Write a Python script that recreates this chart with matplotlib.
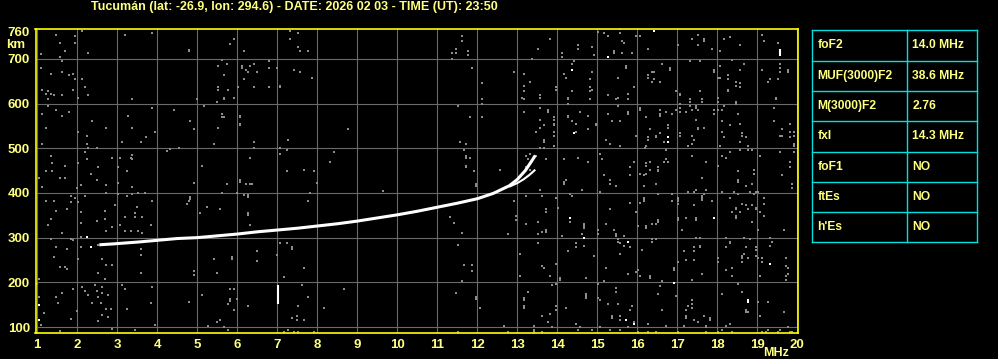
import matplotlib
matplotlib.use("Agg")
import matplotlib.pyplot as plt
from matplotlib.lines import Line2D

# ---- data ----
title = "Tucumán (lat: -26.9, lon: 294.6) - DATE: 2026 02 03 - TIME (UT): 23:50"

x_ticks = list(range(1, 21))
y_ticks = [100, 200, 300, 400, 500, 600, 700]
y_labels = ["100", "200", "300", "400", "500", "600", "700"]

# main F2 echo trace (MHz, virtual height km)
trace_freq = [2.55, 2.9, 3.2, 3.5, 4.0, 4.5, 5.0, 5.5, 6.0, 6.5, 7.0, 7.5, 8.0,
              8.5, 9.0, 9.5, 10.0, 10.5, 11.0, 11.5, 12.0, 12.4, 12.8, 13.0,
              13.2, 13.35, 13.45]
trace_km = [284, 286, 288, 290, 294, 298, 300, 304, 308, 313, 317, 321, 326,
            331, 337, 344, 351, 359, 368, 377, 387, 399, 416, 430, 450, 470, 484]

# second branch near the critical frequency
branch_freq = [12.8, 13.0, 13.15, 13.3, 13.45]
branch_km = [414, 422, 430, 440, 452]

# table of scaled parameters
param_names = ["foF2", "MUF(3000)F2", "M(3000)F2", "fxI", "foF1", "ftEs", "h'Es"]
param_values = ["14.0 MHz", "38.6 MHz", "2.76", "14.3 MHz", "NO", "NO", "NO"]

# isolated white echoes
white_pts = [
    (1.03, 149), (1.03, 116), (2.23, 301), (2.33, 279),
    (15.28, 704), (14.38, 676), (14.43, 533), (14.33, 345), (14.68, 300),
    (15.78, 291), (15.73, 116), (15.93, 107),
    (16.78, 524), (16.78, 515), (17.93, 345),
    (16.93, 198), (19.33, 240), (18.78, 161), (18.78, 157), (16.43, 763),
]
# vertical white streaks (MHz, km bottom, km top)
white_bars = [(7.03, 152, 194), (19.58, 706, 722)]

# gray background noise (1-4 MHz strip)
noise_a = [
    (1.48, 754), (1.93, 751), (2.13, 763), (3.18, 754), (3.88, 758), (1.58, 736), (1.93, 736),
    (1.68, 718), (1.08, 710), (2.28, 713), (1.58, 704), (4.78, 718),
    (1.63, 694), (1.08, 680), (1.33, 667), (1.63, 671), (1.88, 667), (1.93, 654), (1.78, 663),
    (2.13, 654), (2.18, 636), (1.88, 631), (1.13, 631), (1.28, 627), (1.33, 622), (1.23, 622),
    (1.43, 618), (1.63, 618), (2.03, 613), (2.28, 618), (1.28, 609), (3.38, 609),
    (1.28, 595), (1.48, 586), (1.78, 582), (1.63, 573), (1.13, 577), (3.88, 591), (4.43, 586),
    (3.28, 573), (2.38, 560), (2.73, 546), (3.38, 546), (1.23, 546), (2.03, 537), (2.23, 528),
    (3.93, 537), (3.73, 524), (3.13, 515), (3.58, 515), (1.13, 510), (2.23, 510), (2.28, 501),
    (2.48, 501), (4.23, 494), (4.33, 498), (4.53, 501), (1.33, 483), (2.18, 492), (2.88, 479),
    (3.08, 479), (3.38, 485), (3.33, 479), (3.38, 475), (2.23, 475), (2.03, 466), (1.38, 466),
    (1.68, 461), (2.53, 457), (3.03, 457), (1.38, 448), (1.23, 448), (2.33, 443), (3.23, 448),
    (1.68, 434), (1.58, 434), (2.48, 430), (1.03, 434), (1.13, 413), (2.73, 418), (2.08, 418),
    (3.38, 413), (1.98, 412), (3.03, 422),
    (1.83, 394), (1.93, 389), (2.03, 379), (2.18, 394), (2.73, 400), (3.03, 398), (3.38, 398),
    (3.53, 400), (3.68, 400), (3.23, 394), (1.83, 379), (1.23, 382), (1.43, 382), (2.08, 358),
    (1.73, 364), (1.48, 360), (2.93, 372), (3.48, 369), (3.88, 381), (4.73, 375), (2.68, 360),
    (3.43, 355), (3.43, 346), (3.18, 346), (3.63, 346), (2.68, 342), (2.48, 337), (1.33, 342),
    (2.08, 333), (1.28, 328), (2.88, 324), (3.08, 328), (3.83, 328), (2.73, 315), (3.18, 315),
    (3.33, 315), (3.53, 315), (3.63, 310), (1.63, 310),
    (1.33, 297), (1.83, 297), (2.08, 301), (1.88, 294), (2.53, 284), (1.73, 275), (1.48, 279),
    (2.08, 279), (2.03, 252), (1.43, 257), (2.63, 252), (1.58, 234), (1.68, 234), (1.73, 230),
    (2.73, 239), (2.88, 239), (2.53, 221), (2.68, 207), (3.58, 275), (3.58, 261), (3.58, 221),
    (1.03, 207), (0.98, 197), (2.13, 190), (2.43, 194), (2.63, 190), (1.88, 185), (1.63, 176),
    (1.48, 167), (2.18, 181), (2.28, 172), (2.48, 181), (2.53, 167), (2.63, 176), (2.78, 172),
    (3.13, 194), (3.18, 185), (3.88, 190), (1.03, 167), (1.53, 154), (2.38, 154), (2.58, 154),
    (2.73, 140), (2.83, 140), (2.63, 127), (1.18, 131), (1.98, 136), (3.23, 140), (3.83, 154),
    (1.83, 118), (2.53, 113), (2.78, 122), (3.93, 105), (2.88, 96), (3.43, 93), (1.58, 91),
    (1.08, 105),
]

# 4.8-8.5 MHz strip
noise_b = [
    (7.33, 763), (7.53, 758), (4.78, 719), (5.83, 733), (5.93, 745), (6.18, 718), (7.33, 745),
    (7.53, 727), (7.78, 718), (7.58, 718),
    (5.63, 698), (5.73, 689), (5.53, 685), (5.68, 663), (6.13, 685), (6.13, 680), (6.23, 676),
    (6.28, 671), (6.33, 685), (6.43, 689), (6.48, 671), (6.78, 694), (6.78, 680), (6.98, 680),
    (7.43, 676), (7.58, 671), (7.88, 658), (6.18, 654), (6.03, 636), (6.43, 636), (6.78, 636),
    (7.08, 640), (7.08, 636), (5.53, 636), (5.53, 631), (5.78, 631), (5.93, 613), (5.68, 613),
    (5.68, 609), (5.48, 604), (4.98, 609), (5.18, 595),
    (5.63, 577), (5.63, 569), (5.68, 569), (6.08, 573), (6.08, 569), (6.08, 555), (6.08, 551),
    (4.83, 560), (4.93, 542), (5.53, 546), (5.43, 510), (6.43, 515), (6.43, 501), (7.28, 519),
    (7.08, 501), (7.23, 497), (7.08, 488), (6.33, 479), (8.43, 492), (8.33, 470), (5.13, 461),
    (7.23, 448), (7.68, 452), (7.93, 448), (6.08, 430), (6.08, 425), (6.23, 419), (6.33, 419),
    (6.38, 419), (5.73, 419), (4.93, 423), (7.98, 423),
    (5.63, 400), (5.98, 400), (6.18, 396), (6.28, 396), (6.28, 392), (7.83, 400), (4.83, 392),
    (4.83, 387), (4.78, 383), (7.78, 383), (5.23, 369), (5.58, 364), (5.08, 356), (6.28, 356),
    (6.28, 351), (6.33, 329),
    (7.08, 289), (7.23, 289), (7.38, 280), (7.38, 275), (6.48, 271), (5.88, 257), (5.88, 253),
    (5.43, 253), (6.48, 248), (6.98, 262), (4.93, 226), (4.93, 217), (5.48, 222), (7.68, 231),
    (7.18, 213),
    (7.63, 195), (5.83, 186), (5.93, 186), (5.13, 172), (7.78, 168), (4.78, 157), (5.83, 163),
    (5.98, 163), (5.83, 159), (5.78, 152), (6.28, 148), (5.93, 139), (7.53, 148), (8.18, 143),
    (7.48, 125), (7.48, 116), (7.38, 121), (7.68, 116), (5.58, 116), (5.48, 112), (5.28, 103),
    (5.68, 99), (5.78, 94), (7.28, 94), (7.18, 90), (7.43, 90), (7.53, 90), (7.93, 90),
]

# 8.5-12.3 MHz strip
noise_c = [
    (11.63, 751), (11.63, 740), (11.48, 722), (11.38, 713), (11.48, 713), (11.78, 718),
    (11.78, 709), (11.38, 700), (11.88, 680), (12.13, 645), (12.13, 609), (12.13, 598),
    (11.53, 595), (11.83, 569), (12.13, 569), (8.78, 542), (11.58, 515), (11.73, 510),
    (11.68, 497), (11.73, 483), (11.73, 479), (11.83, 479), (11.73, 461), (11.73, 457),
    (11.93, 448), (11.98, 419), (11.98, 415), (9.63, 404), (11.33, 346), (11.43, 333),
    (11.63, 310), (11.53, 284), (11.68, 239), (11.88, 239), (11.88, 225), (11.63, 203),
    (8.68, 186), (11.48, 177), (11.98, 168), (11.98, 163), (12.08, 143), (11.53, 90),
]

# 12.3-16.2 MHz strip
noise_d = [
    (15.03, 761), (15.18, 757), (15.28, 751), (15.58, 757), (15.58, 766), (15.63, 740),
    (15.68, 736), (15.98, 751), (16.08, 751), (13.83, 745), (13.53, 722), (14.13, 713),
    (14.13, 704), (14.53, 731), (14.53, 722), (14.88, 727), (14.93, 709), (15.43, 718),
    (15.43, 713), (15.63, 713), (15.88, 713), (13.38, 700), (12.93, 671), (13.18, 667),
    (14.18, 667), (14.38, 689), (14.43, 694), (14.23, 658), (14.88, 671), (14.83, 654),
    (15.73, 685), (15.73, 680), (15.53, 658), (13.33, 649), (13.18, 640), (13.18, 627),
    (13.13, 613), (13.18, 609), (13.58, 618), (13.58, 613), (13.98, 636), (13.98, 631),
    (14.38, 627), (14.28, 613), (14.28, 609), (14.83, 636), (14.83, 627), (14.88, 631),
    (14.83, 609), (15.28, 618), (15.48, 609), (15.53, 613), (15.78, 622), (15.78, 609),
    (15.93, 636), (14.28, 600), (15.53, 595), (16.08, 591), (16.08, 586), (13.18, 582),
    (13.58, 591), (13.78, 586), (13.78, 582), (13.93, 569), (13.93, 564), (13.93, 555),
    (13.93, 551), (13.58, 564), (13.58, 546), (13.68, 551), (13.48, 537), (13.93, 537),
    (13.93, 528), (14.28, 573), (14.28, 569), (14.58, 582), (14.38, 560), (14.48, 555),
    (14.48, 537), (14.78, 573), (14.78, 542), (14.98, 555), (14.98, 551), (15.28, 577),
    (15.38, 560), (15.58, 560), (15.78, 582), (15.78, 577), (15.98, 528), (13.68, 519),
    (13.68, 515), (13.93, 506), (15.23, 519), (15.33, 510), (15.58, 506), (13.58, 501),
    (13.68, 501),
    (12.58, 452), (13.23, 483), (13.33, 488), (13.48, 483), (13.28, 475), (13.23, 457),
    (13.33, 452), (13.73, 475), (14.18, 475), (14.53, 479), (14.78, 470), (15.08, 488),
    (15.13, 475), (15.83, 457), (15.93, 470), (15.18, 439), (15.33, 430), (15.33, 421),
    (15.48, 416), (15.83, 439), (16.08, 443), (16.18, 439), (14.18, 425), (14.18, 421),
    (14.23, 430), (12.93, 381), (13.23, 394), (13.58, 407), (13.63, 394), (13.98, 389),
    (14.33, 398), (14.38, 394), (14.63, 407), (15.08, 403), (14.03, 367), (13.73, 363),
    (13.73, 358), (15.33, 363), (15.83, 378), (16.08, 378), (15.98, 358), (12.98, 349),
    (12.98, 340), (13.23, 331), (13.53, 336), (14.33, 336), (14.68, 331), (14.68, 327),
    (14.68, 322), (14.63, 309), (13.73, 318), (13.73, 313), (13.53, 309), (14.13, 304),
    (12.78, 309), (13.63, 313), (15.03, 318), (15.03, 309), (15.23, 331), (15.43, 318),
    (15.48, 309), (15.53, 296), (15.68, 304), (15.68, 282), (15.83, 278), (16.03, 327),
    (16.13, 273), (13.08, 264), (13.53, 287), (14.48, 287), (14.48, 278), (14.68, 282),
    (14.93, 260), (15.58, 287), (15.58, 264), (15.23, 233), (15.48, 304), (15.53, 291),
    (14.28, 269), (13.63, 237), (13.68, 233), (13.98, 242), (14.08, 210), (14.08, 206),
    (13.83, 215), (13.08, 215), (15.98, 224), (16.03, 228), (16.08, 215), (15.78, 219),
    (15.03, 197), (15.18, 202), (15.48, 188), (15.48, 179), (14.73, 210), (13.88, 193),
    (13.98, 197), (13.28, 179), (13.18, 148), (13.18, 143), (13.18, 166), (13.18, 161),
    (13.98, 148), (13.98, 139), (14.23, 143), (14.48, 107), (14.58, 99), (14.73, 175),
    (14.73, 170), (14.73, 166), (15.03, 166), (15.08, 161), (15.28, 152), (15.53, 152),
    (15.83, 139), (15.88, 148), (15.38, 125), (15.38, 121), (15.58, 125), (15.58, 116),
    (15.93, 112), (13.63, 125), (13.83, 130), (13.78, 112), (13.88, 99), (13.43, 103),
    (13.43, 94), (13.43, 90), (12.78, 90), (12.68, 103), (13.63, 90), (14.53, 94),
    (14.88, 94), (15.08, 99), (15.33, 94), (15.58, 94), (15.78, 99), (16.03, 90),
]

# 16.2-20 MHz strip
noise_e = [
    (17.53, 754), (17.68, 745), (17.68, 740), (17.38, 745), (17.53, 731), (17.03, 731),
    (17.88, 722), (18.08, 718), (18.18, 745), (18.33, 749), (18.58, 731), (19.13, 754),
    (19.18, 740), (19.53, 736), (16.28, 722),
    (16.63, 689), (16.83, 680), (16.83, 676), (16.38, 671), (16.43, 671), (16.28, 663),
    (16.28, 658), (16.58, 649), (16.38, 649), (16.43, 654), (16.98, 627), (17.08, 622),
    (17.08, 618), (17.33, 694), (17.58, 694), (17.58, 627), (17.93, 676), (17.93, 671),
    (18.08, 685), (18.28, 663), (18.28, 654), (18.48, 649), (18.28, 631), (18.28, 627),
    (18.08, 658), (18.03, 658), (18.38, 698), (18.68, 689), (18.58, 676), (18.58, 645),
    (18.58, 636), (18.48, 640), (19.13, 676), (19.33, 654), (19.28, 649), (19.53, 654),
    (19.58, 671), (19.78, 676), (19.78, 671), (19.58, 689), (19.58, 680), (19.48, 613),
    (19.48, 609), (17.33, 609), (17.33, 604), (17.63, 609), (17.63, 604), (17.08, 600),
    (18.03, 613), (18.03, 604), (18.48, 604), (18.48, 600),
    (16.58, 586), (16.73, 582), (16.58, 577), (16.58, 573), (16.88, 577), (16.23, 569),
    (16.33, 542), (16.48, 528), (16.48, 524), (16.58, 533), (16.68, 515), (16.78, 551),
    (16.78, 546), (16.28, 524), (16.28, 519), (16.23, 506), (17.08, 591), (17.23, 582),
    (17.08, 582), (17.33, 595), (17.38, 586), (17.48, 591), (17.48, 595), (17.53, 586),
    (17.48, 564), (17.68, 546), (17.53, 546), (17.53, 542), (17.08, 533), (17.08, 528),
    (17.38, 528), (17.43, 519), (17.28, 506), (17.38, 510), (16.98, 586), (17.93, 586),
    (17.93, 577), (18.03, 586), (18.13, 586), (18.18, 595), (18.53, 577), (18.13, 560),
    (18.33, 551), (18.13, 537), (18.58, 555), (18.63, 533), (18.63, 528), (18.73, 524),
    (18.58, 515), (18.18, 524), (18.08, 506), (18.78, 506), (19.43, 591), (19.43, 560),
    (19.63, 542), (19.63, 528), (19.83, 555), (19.83, 537), (19.83, 524), (19.93, 537),
    (19.93, 528), (19.93, 510), (19.93, 506), (19.58, 528), (16.20, 501),
    (16.23, 466), (16.23, 461), (16.33, 452), (16.33, 470), (16.53, 457), (16.53, 452),
    (16.53, 448), (16.68, 470), (16.73, 475), (16.78, 470), (16.23, 443), (16.18, 439),
    (16.18, 416), (16.48, 421), (16.73, 497), (17.38, 483), (17.73, 470), (17.63, 434),
    (17.48, 407), (17.73, 407), (18.13, 483), (18.23, 479), (18.33, 492), (18.03, 461),
    (18.53, 448), (18.53, 430), (18.53, 425), (18.73, 416), (18.88, 421), (18.93, 452),
    (18.93, 443), (19.08, 483), (19.58, 492), (19.83, 470), (19.83, 457), (19.63, 439),
    (19.88, 421), (19.88, 412), (19.93, 492), (18.58, 497), (18.78, 497), (18.88, 497),
    (16.18, 389), (16.18, 385), (16.18, 381), (16.53, 398), (16.88, 398), (16.88, 381),
    (17.03, 389), (17.03, 385), (17.03, 381), (17.03, 376), (17.28, 403), (17.43, 403),
    (17.63, 394), (17.63, 389), (17.63, 385), (17.68, 398), (17.88, 381), (17.43, 372),
    (18.13, 403), (18.33, 389), (18.43, 403), (18.53, 398), (18.63, 376), (18.48, 367),
    (18.48, 363), (18.38, 358), (18.58, 358), (18.73, 372), (18.78, 363), (18.88, 372),
    (18.83, 403), (18.93, 398), (18.98, 403), (19.03, 403), (19.18, 389), (19.18, 376),
    (19.08, 358), (19.18, 349), (18.98, 367), (18.98, 363), (16.53, 340), (16.53, 336),
    (16.48, 331), (16.38, 331), (16.23, 327), (16.23, 322), (17.03, 345), (17.03, 340),
    (17.13, 318), (17.23, 345), (17.48, 345), (17.48, 340), (18.48, 349), (18.48, 345),
    (18.88, 336), (19.03, 318), (19.68, 318),
    (16.38, 296), (16.38, 291), (16.48, 296), (17.48, 300), (17.58, 300), (17.58, 282),
    (17.58, 278), (17.43, 278), (17.43, 269), (17.18, 269), (17.23, 251), (17.43, 251),
    (17.03, 246), (16.93, 233), (16.93, 228), (16.33, 215), (16.33, 210), (16.63, 203),
    (17.38, 206), (17.63, 219), (18.23, 300), (18.33, 291), (18.33, 287), (18.23, 278),
    (18.03, 255), (18.03, 246), (18.23, 228), (18.38, 233), (18.38, 215), (18.63, 260),
    (18.63, 255), (18.68, 264), (18.73, 278), (18.78, 255), (18.63, 246), (18.68, 300),
    (18.83, 296), (18.98, 278), (18.98, 273), (18.98, 260), (19.03, 255), (19.08, 215),
    (19.33, 300), (19.33, 282), (19.38, 291), (19.13, 255), (19.13, 246), (19.73, 255),
    (19.73, 237), (19.78, 233), (19.78, 219), (19.73, 215), (19.73, 206),
    (16.58, 191), (16.53, 173), (16.98, 170), (17.38, 161), (17.38, 152), (17.28, 148),
    (17.38, 143), (17.23, 139), (17.23, 125), (17.23, 121), (17.43, 116), (17.53, 112),
    (17.68, 125), (17.83, 121), (17.83, 116), (16.63, 139), (16.28, 107), (16.73, 103),
    (17.18, 103), (17.73, 103), (17.73, 99), (17.73, 90), (18.13, 173), (18.23, 103),
    (18.33, 107), (18.53, 197), (18.63, 179), (18.73, 139), (18.73, 134), (18.78, 134),
    (19.03, 157), (19.28, 157), (19.08, 125), (19.68, 134), (16.28, 90), (16.48, 90),
    (17.03, 90), (18.03, 90), (18.13, 94), (18.38, 90), (19.13, 90), (19.23, 90),
    (19.28, 94), (19.53, 90), (19.58, 94), (19.83, 90), (19.88, 90), (19.78, 99),
]

TXT = "#ffff80"
FRAME = "#ffff00"
CYAN = "#00e0e0"
GRID = "#6a6a6a"
NOISE = "#8c8c8c"
FONT = "Liberation Sans"

fig = plt.figure(figsize=(9.98, 3.59), dpi=100, facecolor="black")
ax = fig.add_axes([35.5 / 998, 25.7 / 359, 762.8 / 998, 304.0 / 359])
ax.set_facecolor("black")
ax.set_xlim(0.955, 20.025)
ax.set_ylim(86, 766)

for x in x_ticks:
    ax.axvline(x, color=GRID, lw=0.8, zorder=1)
for y in y_ticks:
    ax.axhline(y, color=GRID, lw=0.8, zorder=1)

noise = noise_a + noise_b + noise_c + noise_d + noise_e
ax.plot([p[0] for p in noise], [p[1] for p in noise], "s", color=NOISE,
        ms=1.9, mew=0, zorder=2)
ax.plot([p[0] for p in white_pts], [p[1] for p in white_pts], "s", color="white",
        ms=1.9, mew=0, zorder=3)
for f, lo, hi in white_bars:
    ax.plot([f, f], [lo, hi], color="white", lw=1.5, solid_capstyle="butt", zorder=3)

ax.plot(trace_freq, trace_km, color="white", lw=2.2, solid_capstyle="butt", zorder=4)
ax.plot(branch_freq, branch_km, color="white", lw=1.5, solid_capstyle="butt", zorder=4)

for s in ax.spines.values():
    s.set_color(FRAME)
    s.set_linewidth(1.2)
ax.set_xticks(x_ticks)
ax.set_yticks(y_ticks + [760])
ax.set_yticklabels(y_labels + ["760"])
ax.tick_params(length=0, colors=TXT, labelsize=9.5, pad=4)
for lab in ax.get_xticklabels() + ax.get_yticklabels():
    lab.set_fontweight("bold")
    lab.set_family(FONT)

# overlay in pixel coordinates for title, units and the table
ov = fig.add_axes([0, 0, 1, 1], facecolor="none")
ov.set_xlim(0, 998)
ov.set_ylim(359, 0)
ov.axis("off")

tkw = dict(color=TXT, fontweight="bold", family=FONT)
ov.text(91, 7, title, fontsize=9.0, ha="left", va="center", **tkw)
ov.text(6, 45, "km", fontsize=9.5, ha="left", va="center", **tkw)
ov.text(763, 353, "MHz", fontsize=9, ha="left", va="center", **tkw)

tx0, tx1, tmid = 812.3, 977.3, 907.3
ty0, row_h = 30.3, 30.3
n = len(param_names)
for i in range(n + 1):
    ov.add_line(Line2D([tx0, tx1], [ty0 + i * row_h] * 2, color=CYAN, lw=1))
for xv in (tx0, tmid, tx1):
    ov.add_line(Line2D([xv, xv], [ty0, ty0 + n * row_h], color=CYAN, lw=1))
for i, (name, val) in enumerate(zip(param_names, param_values)):
    yc = ty0 + (i + 0.5) * row_h
    ov.text(817.5, yc, name, fontsize=8.7, ha="left", va="center", **tkw)
    ov.text(912.5, yc, val, fontsize=8.7, ha="left", va="center", **tkw)

fig.savefig("out.png", dpi=100, facecolor="black")
